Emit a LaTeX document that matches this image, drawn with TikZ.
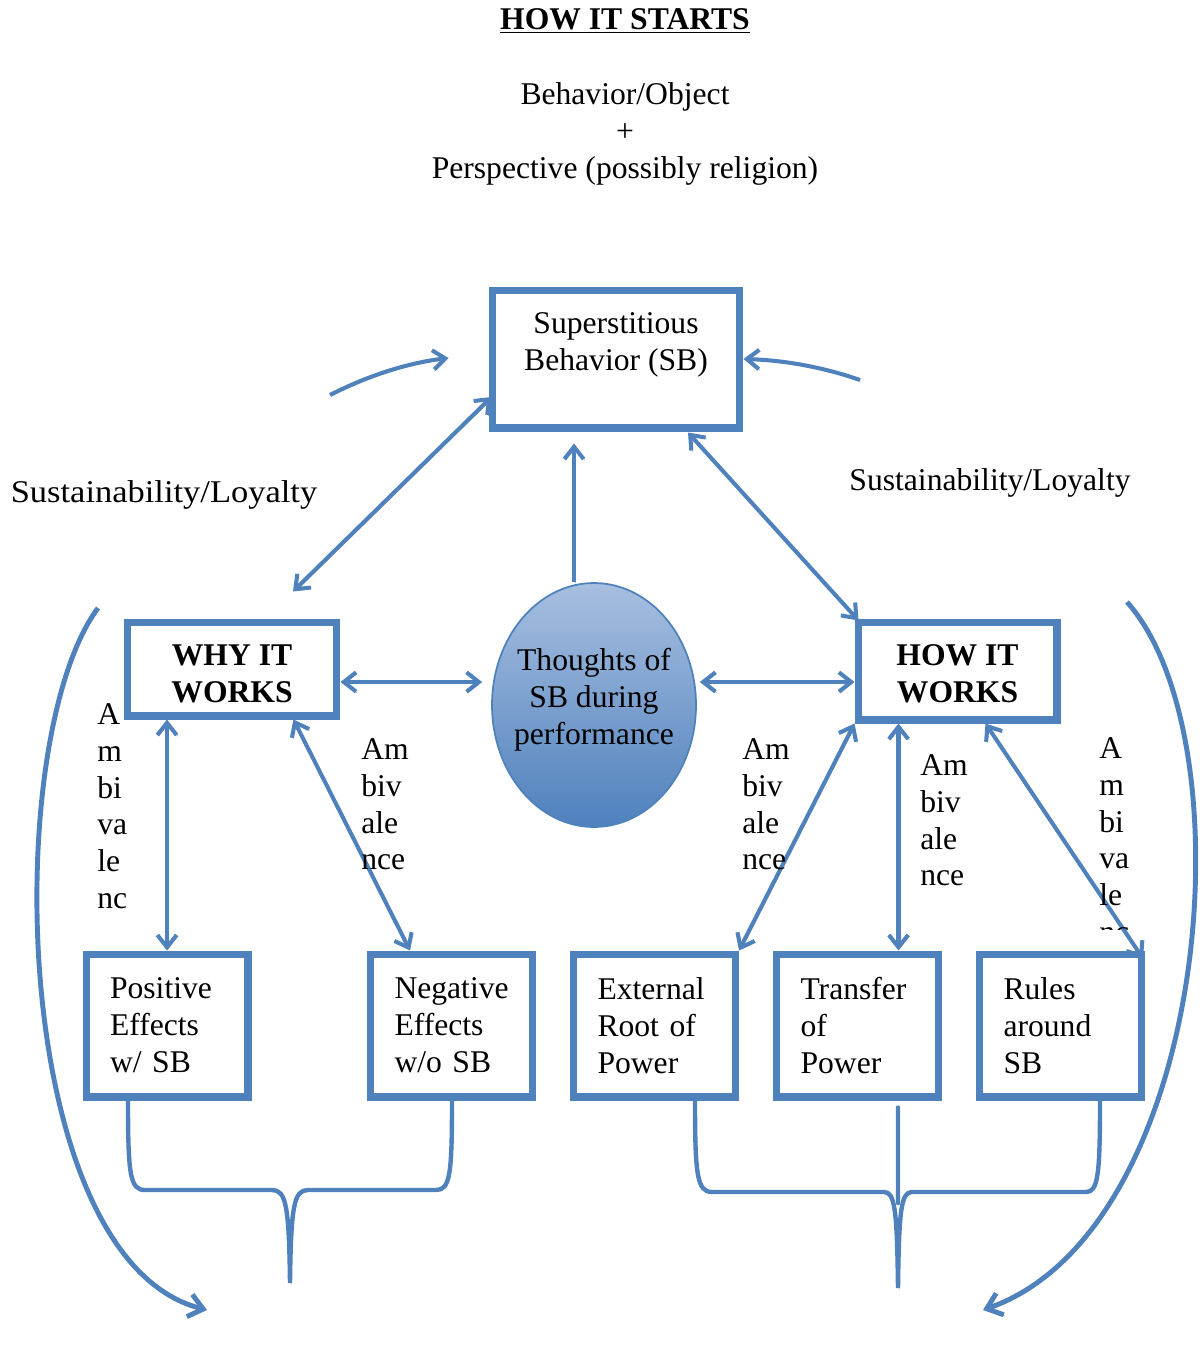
\documentclass[tikz,border=0pt]{standalone}
\usepackage{fontspec}
\setmainfont{Liberation Serif}
\usetikzlibrary{arrows.meta,shapes.geometric,positioning,calc}
\definecolor{SBBlue}{RGB}{79,129,189}
\definecolor{SBLight}{RGB}{167,191,224}
\definecolor{SBShade}{RGB}{160,160,160}
\tikzset{
  sbox/.style={draw=SBBlue,line width=4pt,fill=white,align=center},
  hbox/.style={sbox,font=\fontsize{18}{21}\selectfont\bfseries},
  bbox/.style={sbox,minimum width=3.24cm,minimum height=2.86cm,text width=2.28cm,align=left},
  ell/.style={ellipse,draw=SBBlue,line width=1pt,top color=SBLight,bottom color=SBBlue,minimum width=4.08cm,minimum height=4.88cm,inner sep=0pt},
  amb/.style={anchor=north west,inner sep=0pt,align=left},
  shad/.style={preaction={draw=SBShade!70,transform canvas={shift={(0.7pt,-0.7pt)}}}},
  arr/.style={shad,draw=SBBlue,line width=2.3pt,-{Straight Barb[length=7pt,width=11pt]}},
  darr/.style={arr,{Straight Barb[length=7pt,width=11pt]}-{Straight Barb[length=7pt,width=11pt]}},
  bigarr/.style={shad,draw=SBBlue,line width=2.8pt,-{Straight Barb[length=8pt,width=13pt]}},
  sbrace/.style={shad,draw=SBBlue,line width=2.5pt,line cap=round},
}

\begin{document}
\begin{tikzpicture}[x=0.02cm,y=-0.02cm,font=\fontsize{18}{21}\selectfont]
    \useasboundingbox (0,0) rectangle (1201,1352);
    %% Header
    \node (title) at (625,21) {\textbf{\underline{HOW IT STARTS}}};
    \node[align=center] (start) at (625,134) {Behavior/Object\\+\\Perspective (possibly religion)};
    %% Core
    \node[sbox,minimum width=4.96cm,minimum height=2.76cm] (sb) at (616,359) {Superstitious\\Behavior (SB)\\[-7.4pt]\strut};
    \node[hbox,minimum width=4.2cm,minimum height=1.88cm] (why) at (232,669) {\rule{0pt}{17.6pt}WHY IT\\WORKS};
    \node[hbox,minimum width=3.98cm,minimum height=1.96cm] (how) at (957.5,671) {\rule{0pt}{15.4pt}HOW IT\\WORKS};
    \node[ell] (ell) at (594,705) {};
    \node[align=center] (elltext) at (594,700) {Thoughts of\\SB during\\performance};
    %% Effects
    \node[bbox] (pos) at (167,1025.5) {Positive\\Effects\\w/ SB};
    \node[bbox] (neg) at (451.5,1025.5) {Negative\\Effects\\w/o SB};
    \node[bbox] (ext) at (654.5,1025.5) {External\\Root of\\Power};
    \node[bbox] (tra) at (857.5,1025.5) {Transfer\\of\\Power};
    \node[bbox] (rul) at (1060.5,1025.5) {Rules\\around\\SB};
    %% Free ends
    \coordinate (lt) at (330,395);
    \coordinate (rt) at (860,380);
    \coordinate (lbig) at (98,608);
    \coordinate (lend) at (207,1310);
    \coordinate (rbig) at (1127,602);
    \coordinate (rend) at (983,1310);
    \coordinate (trtop) at ($(tra.north)+(41,0)$);
    \coordinate (trbot) at (898,1203);
    %% Arrows
    \draw[arr] ($(ell.north)+(-20,0)$)--($(sb.south)+(-42,12)$);
    \draw[darr] ($(why.north)+(61,-27)$)--($(sb.west)+(3,38)$);
    \draw[darr] ($(sb.south)+(72,1)$)--($(how.north west)+(4,2)$);
    \draw[darr] ($(why.east)+(0,13)$)--($(ell.west)+(-9,-23)$);
    \draw[darr] ($(ell.east)+(3,-23)$)--($(how.west)+(0,11)$);
    \draw[darr] (pos.north |- why.south)--(pos.north);
    \draw[darr] ($(why.south east)+(-47,0)$)--($(neg.north west)+(43,0)$);
    \draw[darr] (how.south west)--(ext.north east);
    \draw[darr] (trtop |- how.south)--(trtop);
    \draw[darr] ($(how.south)+(28,0)$)--($(rul.north east)+(-2,8)$);
    \draw[arr] (lt) .. controls (375,372) and (415,362) .. ($(sb.west)+(-40,-1)$);
    \draw[arr] (rt) .. controls (820,366) and (780,360) .. (sb.east);
    \draw[bigarr] (lbig) .. controls (0,740) and (10,1260) .. (lend);
    \draw[bigarr] (rbig) .. controls (1250,740) and (1210,1230) .. (rend);
    %% Braces
    \draw[sbrace] ($(pos.south)+(-39,0)$) .. controls (128,1175) and (130,1190) .. (145,1190) -- (272,1190)
      .. controls (286,1190) and (289,1205) .. (290,1283) .. controls (291,1205) and (294,1190) .. (308,1190)
      -- (436,1190) .. controls (450,1190) and (452,1175) .. ($(neg.south)+(0.5,0)$);
    \draw[sbrace] ($(ext.south)+(40.5,0)$) .. controls (695,1175) and (697,1192) .. (712,1192) -- (884,1192)
      .. controls (895,1192) and (897,1210) .. (898,1288) .. controls (899,1210) and (901,1192) .. (912,1192)
      -- (1086,1192) .. controls (1098,1192) and (1100,1175) .. ($(rul.south)+(39.5,0)$);
    \draw[sbrace] ($(tra.south)+(40.5,7)$)--(trbot);
    %% Labels
    \node (susl) at (164,495) {\scalebox{1.09}[1]{Sustainability/Loyalty}};
    \node (susr) at (990,483) {Sustainability/Loyalty};
    \node[amb] (amb1) at (97,703) {A\\m\\bi\\va\\le\\nc};
    \node[amb] (amb2) at (361,738) {Am\\biv\\ale\\nce};
    \node[amb] (amb3) at (742,738) {Am\\biv\\ale\\nce};
    \node[amb] (amb4) at (920,754) {Am\\biv\\ale\\nce};
    \begin{scope}
      \clip (1090,700) rectangle (1145,929);
      \node[amb] (amb5) at (1099,737) {A\\m\\bi\\va\\le\\nc};
    \end{scope}
  \end{tikzpicture}
\end{document}
